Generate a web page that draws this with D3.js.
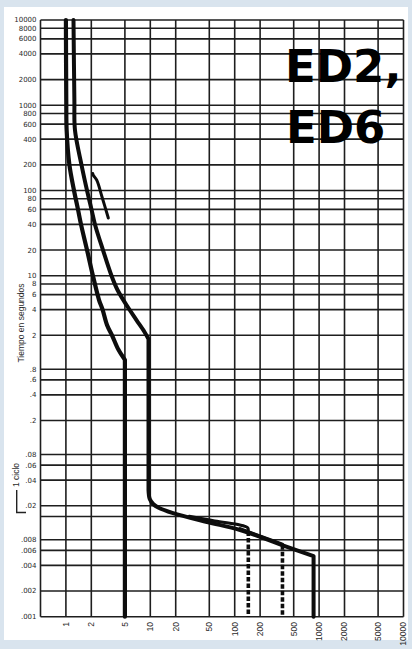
<!DOCTYPE html>
<html><head><meta charset="utf-8">
<script src="https://cdn.jsdelivr.net/npm/d3@7"></script>
<style>html,body{margin:0;padding:0;background:#d9e4ee;} svg{display:block}</style>
</head><body><svg id="c" width="412" height="649"></svg>
<script>
// ---- data ----
const xTicks = [1,2,5,10,20,50,100,200,500,1000,2000,5000,10000];
const xTickLabels = ["1","2","5","10","20","50","100","200","500","1000","2000","5000","10000"];
const yTicks = [10000,8000,6000,4000,2000,1000,800,600,400,200,100,80,60,40,20,10,8,6,4,2,0.8,0.6,0.4,0.2,0.08,0.06,0.04,0.02,0.008,0.006,0.004,0.002,0.001];
const yTickLabels = ["10000","8000","6000","4000","2000","1000","800","600","400","200","100","80","60","40","20","10","8","6","4","2",".8",".6",".4",".2",".08",".06",".04",".02",".008",".006",".004",".002",".001"];
const yExtraGrid = [0.015];
const cycleTime = 1/60;
const titleLines = ["ED2,", "ED6"];
const yTitle = "Tiempo en segundos";
const cycleLabel = "1 ciclo";

// curve A (lower-left): thermal part then instantaneous vertical at 5x
const curveA = [[1.0,10000],[1.01,1150],[1.02,512],[1.10,200],[1.247,100],[1.39,60],[1.51,40],[1.78,20],[2.09,10],[2.47,5.19],[2.72,4],[3.07,2.64],[3.52,2],[4.2,1.35],[5,1.03]];
const curveAEnd = [5,0.001];
// curve B (upper-right)
const curveBTop = [[1.23,10000],[1.26,1150],[1.28,512],[1.53,200],[1.78,100],[2.01,60],[2.21,40],[2.75,20],[3.47,10],[4.09,6.8],[5.22,4.53],[6.86,3.02],[8.54,2.19],[9.52,1.81]];
const curveBLow = [[9.52,0.0306],[9.85,0.024],[10.8,0.021],[12.4,0.0191],[18.6,0.0164],[47,0.0129],[116,0.0104],[364,0.00693],[860,0.00515]];
const curveBEnd = [860,0.001];
// curve C (upper band line, ends with dashed drop)
const curveC = [[29,0.0151],[58,0.0133],[115,0.0119],[132,0.0115],[143,0.0110],[145,0.0103]];
const dropC = [[145,0.0100],[145,0.001]];
// curve D (band line ending with dashed drop)
const curveD = [[116,0.0108],[240,0.0083],[368,0.0071]];
const dropD = [[368,0.0069],[368,0.001]];
// short fragment
const fragE = [[2.08,158],[2.12,150],[2.32,132],[2.68,84],[3.18,47.5]];

// ---- drawing ----
const svg = d3.select("#c");
svg.append("rect").attr("x",4).attr("y",7).attr("width",404).attr("height",633).attr("fill","#fff");

const x = d3.scaleLog().domain([0.5,10000]).range([40.5,403.5]);
const y = d3.scaleLog().domain([0.001,10000]).range([616.7,20]);

const grid = svg.append("g").attr("stroke","#1e1e1e").attr("stroke-width",1.6);
grid.selectAll("line.h").data(yTicks.concat(yExtraGrid)).enter().append("line")
  .attr("x1",x(0.5)).attr("x2",x(10000)).attr("y1",d=>y(d)).attr("y2",d=>y(d));
grid.selectAll("line.v").data([0.5].concat(xTicks)).enter().append("line")
  .attr("y1",y(10000)).attr("y2",y(0.001)).attr("x1",d=>x(d)).attr("x2",d=>x(d));

const font = "'Liberation Sans', Arial, sans-serif";
// y tick labels
svg.append("g").selectAll("text").data(yTicks).enter().append("text")
  .attr("x",36.5).attr("y",d=>y(d)).attr("dy","0.35em").attr("text-anchor","end")
  .attr("font-family","'DejaVu Sans', sans-serif").attr("font-size",7).attr("fill","#2a2a2a")
  .text((d,i)=>yTickLabels[i]);
// x tick labels
svg.append("g").selectAll("text").data(xTicks).enter().append("text")
  .attr("transform",d=>`translate(${x(d)},622) rotate(-90)`)
  .attr("dy","0.35em").attr("text-anchor","end")
  .attr("font-family",font).attr("font-size",8.5).attr("fill","#2a2a2a")
  .text((d,i)=>xTickLabels[i]);

// axis title
svg.append("text").attr("transform","translate(24,323) rotate(-90)")
  .attr("text-anchor","middle").attr("font-family",font).attr("font-size",8.5).attr("fill","#2a2a2a")
  .text(yTitle);
// 1 ciclo bracket
svg.append("text").attr("transform","translate(19,475) rotate(-90)")
  .attr("text-anchor","middle").attr("font-family",font).attr("font-size",8.5).attr("fill","#2a2a2a")
  .text(cycleLabel);
svg.append("path").attr("fill","none").attr("stroke","#222").attr("stroke-width",1.4)
  .attr("d",`M16.7,490 L16.7,${y(cycleTime)} L26,${y(cycleTime)}`);

// curves
const lc = d3.line().x(d=>x(d[0])).y(d=>y(d[1])).curve(d3.curveCatmullRom.alpha(0.5));
const ll = d3.line().x(d=>x(d[0])).y(d=>y(d[1]));
const cg = svg.append("g").attr("fill","none").attr("stroke","#0d0d0d")
  .attr("stroke-linejoin","round").attr("stroke-linecap","round");

cg.append("path").attr("stroke-width",4.2)
  .attr("d", lc(curveA) + "L" + x(curveAEnd[0]) + "," + y(curveAEnd[1]));
cg.append("path").attr("stroke-width",4)
  .attr("d", lc(curveBTop) + lc(curveBLow).replace(/^M/,"L") + "L" + x(curveBEnd[0]) + "," + y(curveBEnd[1]));
cg.append("path").attr("stroke-width",3).attr("d", lc(curveC));
cg.append("path").attr("stroke-width",3).attr("d", lc(curveD));
cg.append("path").attr("stroke-width",3.6).attr("stroke-linecap","butt").attr("stroke-dasharray","4.5,2").attr("d", ll(dropC));
cg.append("path").attr("stroke-width",3.6).attr("stroke-linecap","butt").attr("stroke-dasharray","4.5,2").attr("d", ll(dropD));
cg.append("path").attr("stroke-width",3).attr("d", lc(fragE));

// title
const tg = svg.append("g").attr("font-family","'DejaVu Sans', sans-serif").attr("font-weight","bold")
  .attr("font-size",45).attr("fill","#000");
tg.append("text").attr("x",285).attr("y",82).text(titleLines[0]);
tg.append("text").attr("x",286).attr("y",143).text(titleLines[1]);
</script>
</body></html>
